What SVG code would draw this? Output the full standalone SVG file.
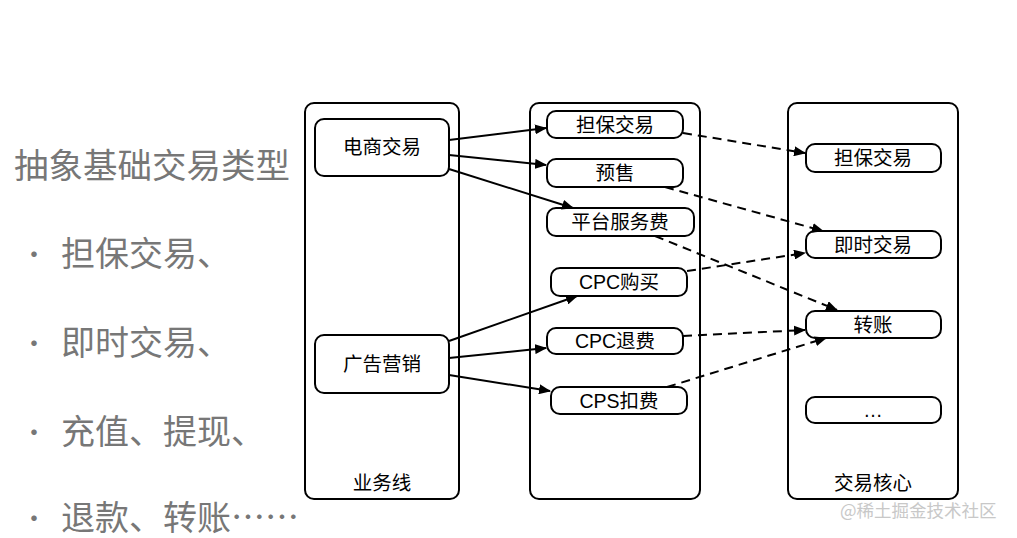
<svg xmlns="http://www.w3.org/2000/svg" width="1017" height="538" viewBox="0 0 1017 538">
<style>
.c{fill:#fff;stroke:#000;stroke-width:2}
.n{fill:#fff;stroke:#000;stroke-width:2}
.t{font-family:"Liberation Sans","Noto Sans CJK SC",sans-serif;font-size:19.5px;fill:#000;text-anchor:middle;dominant-baseline:central}
.g{font-family:"Noto Sans CJK SC",sans-serif;font-size:34px;fill:#777}
.b{font-family:"Noto Sans CJK SC",sans-serif;font-size:26px;fill:#777}
.s{stroke:#000;stroke-width:2;fill:none;marker-end:url(#a)}
.d{stroke:#000;stroke-width:2;fill:none;stroke-dasharray:9 6;marker-end:url(#a)}
</style>
<defs>
<marker id="a" viewBox="0 0 12 10" refX="11" refY="5" markerWidth="12" markerHeight="10" markerUnits="userSpaceOnUse" orient="auto">
<path d="M0,0 L12,5 L0,10 Z" fill="#000"/>
</marker>
</defs>
<rect width="1017" height="538" fill="#fff"/>
<g id="left-text">
<text class="g" x="14" y="178" textLength="276" lengthAdjust="spacingAndGlyphs">抽象基础交易类型</text>
<text class="b" x="21" y="264">·</text><text class="g" x="61" y="266">担保交易、</text>
<text class="b" x="21" y="353">·</text><text class="g" x="61" y="355">即时交易、</text>
<text class="b" x="21" y="442">·</text><text class="g" x="61" y="444">充值、提现、</text>
<text class="b" x="21" y="528">·</text><text class="g" x="61" y="530">退款、转账……</text>
</g>
<g id="lane-business"><rect class="c" x="305" y="103" width="154" height="396" rx="9"/><text class="t" x="382" y="483">业务线</text></g>
<g id="lane-mid"><rect class="c" x="530" y="103" width="170" height="396" rx="9"/></g>
<g id="lane-core"><rect class="c" x="788" y="103" width="170" height="396" rx="9"/><text class="t" x="873" y="483">交易核心</text></g>
<g id="n-ecommerce"><rect class="n" x="315" y="119" width="134" height="57" rx="9"/><text class="t" x="382" y="147">电商交易</text></g>
<g id="n-ads"><rect class="n" x="315" y="335" width="134" height="58" rx="9"/><text class="t" x="382" y="364">广告营销</text></g>
<g id="n-m1"><rect class="n" x="547" y="111" width="136" height="27" rx="9"/><text class="t" x="615" y="125">担保交易</text></g>
<g id="n-m2"><rect class="n" x="547" y="159" width="136" height="28" rx="9"/><text class="t" x="615" y="173">预售</text></g>
<g id="n-m3"><rect class="n" x="547" y="208" width="147" height="28" rx="9"/><text class="t" x="620" y="222">平台服务费</text></g>
<g id="n-m4"><rect class="n" x="551" y="268" width="136" height="28" rx="9"/><text class="t" x="619" y="282">CPC购买</text></g>
<g id="n-m5"><rect class="n" x="547" y="328" width="136" height="26" rx="9"/><text class="t" x="615" y="341">CPC退费</text></g>
<g id="n-m6"><rect class="n" x="551" y="387" width="136" height="27" rx="9"/><text class="t" x="619" y="401">CPS扣费</text></g>
<g id="n-c1"><rect class="n" x="806" y="144" width="135" height="28" rx="9"/><text class="t" x="873" y="158">担保交易</text></g>
<g id="n-c2"><rect class="n" x="806" y="231" width="135" height="27" rx="9"/><text class="t" x="873" y="245">即时交易</text></g>
<g id="n-c3"><rect class="n" x="806" y="311" width="135" height="27" rx="9"/><text class="t" x="873" y="325">转账</text></g>
<g id="n-c4"><rect class="n" x="806" y="397" width="135" height="26" rx="9"/><text class="t" x="873" y="410">…</text></g>
<g id="connectors">
<path class="s" d="M449,140 L546,128"/>
<path class="s" d="M449,155 L546,165"/>
<path class="s" d="M449,169 L573,208"/>
<path class="s" d="M449,341 L577,296"/>
<path class="s" d="M449,358 L546,348"/>
<path class="s" d="M449,375 L550,391"/>
<path class="d" d="M683,133 L805,153"/>
<path class="d" d="M665,187 L823,231"/>
<path class="d" d="M655,236 L837,310"/>
<path class="d" d="M687,271 L805,253"/>
<path class="d" d="M683,336 L805,330"/>
<path class="d" d="M667,387 L826,338"/>
</g>
<text x="840" y="517" style="font-family:'Noto Sans CJK SC',sans-serif;font-size:17.5px;fill:#c8c8c8">@稀土掘金技术社区</text>
</svg>
